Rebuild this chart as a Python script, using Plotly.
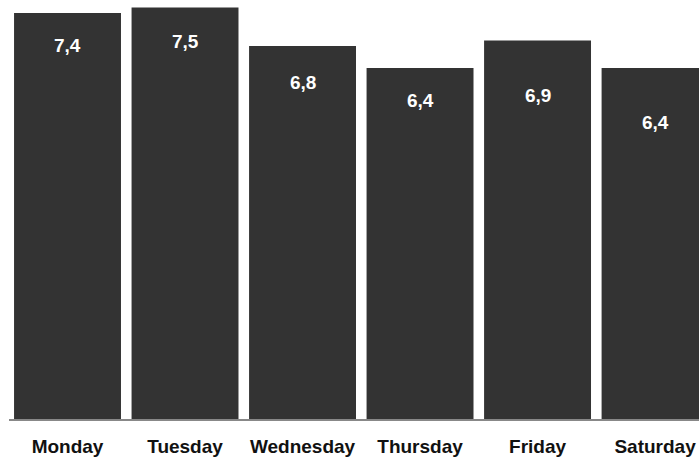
import plotly.graph_objects as go

# Average values per weekday
days = ["Monday", "Tuesday", "Wednesday", "Thursday", "Friday", "Saturday"]
values = [7.4, 7.5, 6.8, 6.4, 6.9, 6.4]

# Vertical offset (px) of each value label below its bar top
label_drop = [32, 34, 36, 33, 55, 55]

BAR_COLOR = "#333333"
FONT = "Liberation Sans, Arial, sans-serif"

fig = go.Figure(
    go.Bar(
        x=days,
        y=values,
        width=0.91,
        marker=dict(color=BAR_COLOR, line=dict(width=0)),
        hoverinfo="skip",
    )
)

for day, val, drop in zip(days, values, label_drop):
    fig.add_annotation(
        x=day,
        y=val,
        text="<b>" + f"{val:.1f}".replace(".", ",") + "</b>",
        showarrow=False,
        yanchor="middle",
        yshift=-drop,
        font=dict(family=FONT, size=19, color="white"),
    )

fig.update_layout(
    width=699,
    height=460,
    margin=dict(l=9, r=0, t=0, b=41),
    paper_bgcolor="white",
    plot_bgcolor="white",
    showlegend=False,
    xaxis=dict(
        range=[-0.498, 5.374],
        showline=True,
        linecolor="#888888",
        linewidth=2,
        showgrid=False,
        zeroline=False,
        ticks="",
        ticklabelstandoff=9,
        tickfont=dict(family=FONT, size=19, color="#111111", weight="bold"),
    ),
    yaxis=dict(
        range=[0, 7.639],
        visible=False,
        showgrid=False,
        zeroline=False,
    ),
)

fig.write_html("out.html")
